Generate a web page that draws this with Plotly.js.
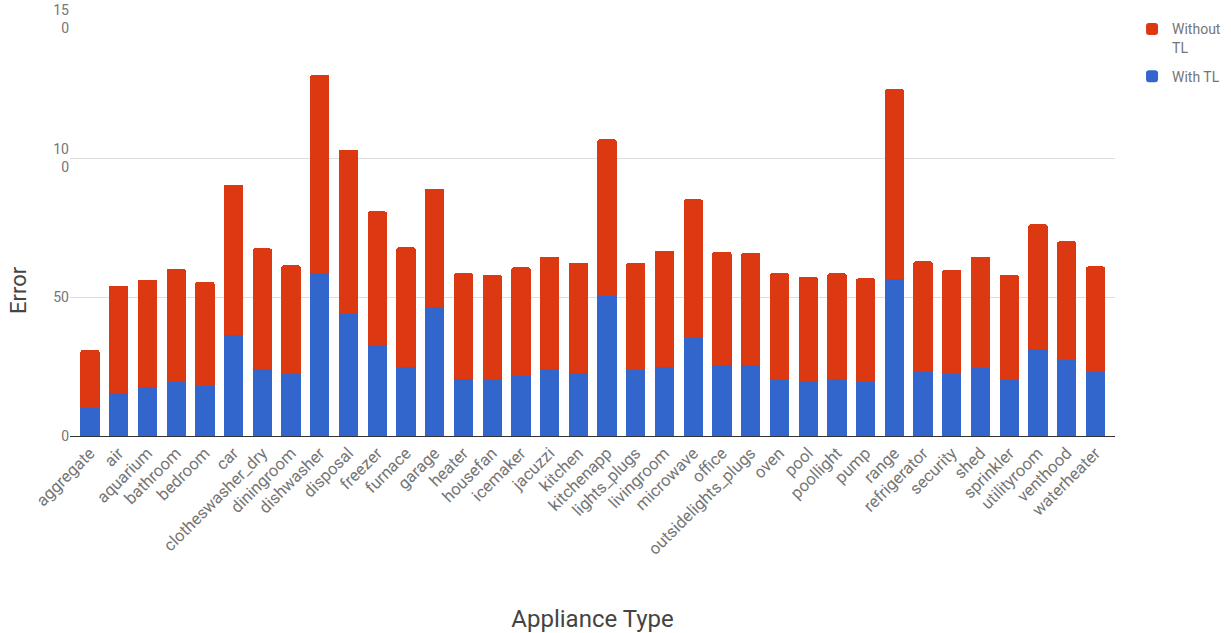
<!DOCTYPE html>
<html>
<head>
<meta charset="utf-8">
<script src="https://cdn.plot.ly/plotly-3.0.1.min.js"></script>
<style>html,body{margin:0;padding:0;background:#fff}#chart{width:1231px;height:633px}</style>
</head>
<body>
<div id="chart"></div>
<script>
const categories = ["aggregate","air","aquarium","bathroom","bedroom","car","clotheswasher_dry","diningroom","dishwasher","disposal","freezer","furnace","garage","heater","housefan","icemaker","jacuzzi","kitchen","kitchenapp","lights_plugs","livingroom","microwave","office","outsidelights_plugs","oven","pool","poollight","pump","range","refrigerator","security","shed","sprinkler","utilityroom","venthood","waterheater"];
const withTL = [10.0,15.6,17.6,19.4,18.1,36.2,24.0,22.4,58.5,43.9,32.6,24.9,46.4,20.5,20.1,21.6,24.0,22.8,50.4,23.6,24.9,35.4,25.4,25.4,20.1,19.7,20.5,19.3,56.4,23.1,22.4,24.5,20.1,31.3,27.5,23.1];
const withoutTL = [20.9,38.5,38.6,40.8,37.4,54.1,43.5,39.0,71.4,59.0,48.2,43.0,42.6,38.0,37.8,39.1,40.4,39.5,56.3,38.7,41.8,49.7,40.8,40.4,38.4,37.5,38.0,37.4,68.3,39.7,37.4,40.0,37.8,44.8,42.5,37.9];
const yTickVals = [0,50,100,150];
const yTickText = ["0","50","10<br>0","15<br>0"];

const traces = [
  {type:"bar", name:"With TL", legendgroup:"b", legendrank:2, x:categories, y:withTL, marker:{color:"#3366cc"}},
  {type:"bar", name:"Without<br>TL", legendgroup:"a", legendrank:1, x:categories, y:withoutTL, marker:{color:"#dc3912"}}
];
const layout = {
  width:1231, height:633,
  barmode:"stack", bargap:0.328, barcornerradius:2,
  paper_bgcolor:"#ffffff", plot_bgcolor:"#ffffff",
  font:{family:"Roboto, Arial, sans-serif", color:"#757575", size:14},
  margin:{l:70, r:116, t:19, b:197, autoexpand:false},
  xaxis:{
    range:[-0.696, 35.68],
    tickangle:-45, tickfont:{size:16.6, color:"#757575"},
    showline:true, linecolor:"#333333", linewidth:1, ticks:"", showgrid:false,
    title:{text:"Appliance Type", font:{size:24, color:"#444444"}, standoff:56}
  },
  yaxis:{
    range:[0,150], tickvals:yTickVals, ticktext:yTickText,
    tickfont:{size:14, color:"#757575"},
    showgrid:true, gridcolor:"#dddddd", gridwidth:1, zeroline:false, ticks:""
  },
  annotations:[{
    text:"Error", textangle:-90, xref:"paper", yref:"paper",
    x:-0.0498, y:0.350, xanchor:"center", yanchor:"middle", showarrow:false,
    font:{size:22, color:"#444444"}
  }],
  legend:{xref:"container", yref:"container", x:0.9196, xanchor:"left", y:0.979, yanchor:"top",
    valign:"top", traceorder:"grouped", font:{size:14, color:"#757575"}, tracegroupgap:8},
  showlegend:true
};
Plotly.newPlot("chart", traces, layout, {displayModeBar:false, staticPlot:true});
</script>
</body>
</html>
